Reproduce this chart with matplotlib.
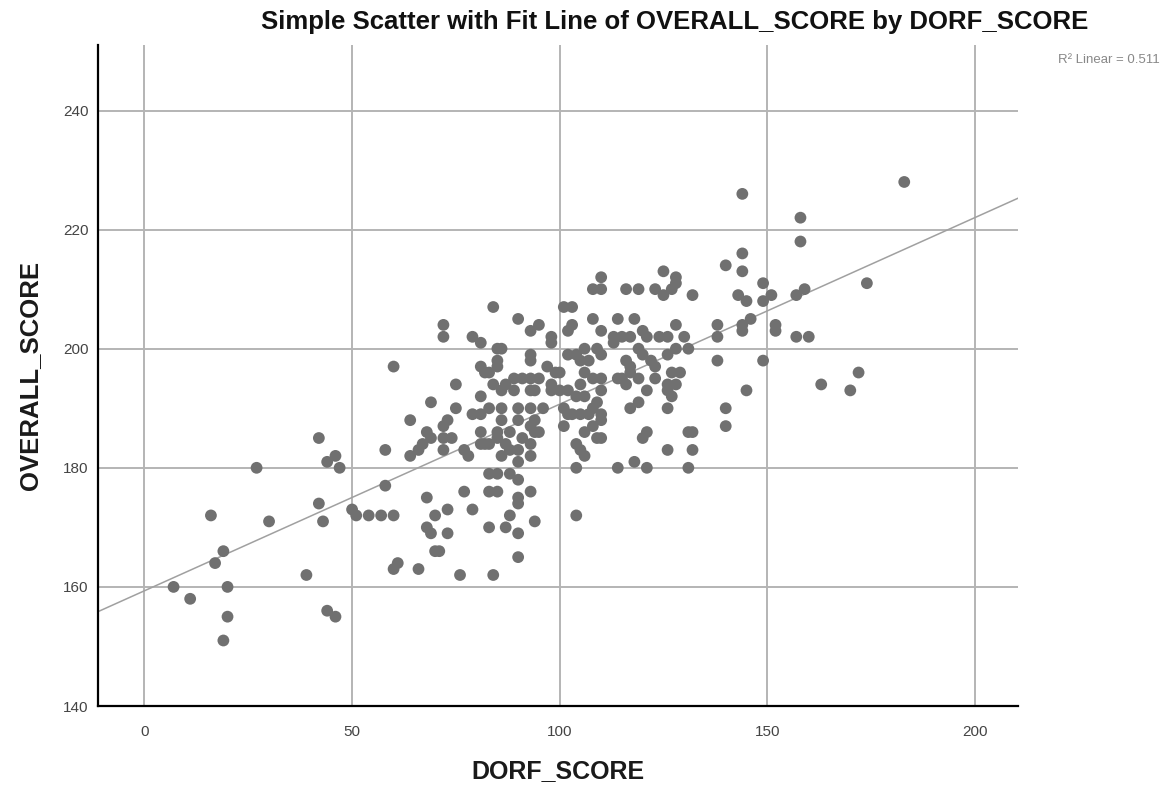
import matplotlib
matplotlib.use("Agg")
import matplotlib.pyplot as plt
import numpy as np

# ---- data ----
dorf_low = [7, 11, 16, 17, 19, 19, 20, 20, 27, 30, 39, 42, 42, 43, 44, 46, 47, 44, 46, 50,
            51, 54, 57, 60, 58, 58, 60, 60, 61, 64, 68, 68, 70, 68, 69, 70, 66, 64, 69, 69, 67, 66]
overall_low = [160, 158, 172, 164, 166, 151, 160, 155, 180, 171, 162, 185, 174, 171, 181, 182, 180, 156, 155, 173,
               172, 172, 172, 172, 183, 177, 197, 163, 164, 182, 186, 175, 172, 170, 169, 166, 163, 188, 191, 185, 184, 183]

dorf_mid = [72, 72, 79, 81, 84, 90, 85, 86, 93, 95, 85, 85, 81, 82, 83, 75, 84, 75, 81, 79,
            81, 83, 73, 72, 74, 72, 72, 77, 78, 81, 81, 83, 85, 87, 86, 88, 90, 93, 93, 94,
            94, 93, 93, 89, 91, 93, 95, 87, 86, 89, 93, 94, 86, 90, 93, 96, 86, 90, 93, 85,
            88, 91, 95, 82, 90, 83, 85, 88, 90, 83, 85, 77, 79, 73, 90, 90, 93, 88, 94, 83,
            87, 90, 73, 71, 90, 76, 84]
overall_mid = [204, 202, 202, 201, 207, 205, 200, 200, 203, 204, 198, 197, 197, 196, 196, 194, 194, 190, 192, 189,
               189, 190, 188, 187, 185, 185, 183, 183, 182, 186, 184, 184, 185, 184, 182, 183, 181, 184, 182, 188,
               186, 199, 198, 195, 195, 195, 195, 194, 193, 193, 193, 193, 190, 190, 190, 190, 188, 188, 187, 186,
               186, 185, 186, 184, 183, 179, 179, 179, 178, 176, 176, 176, 173, 173, 175, 174, 176, 172, 171, 170,
               170, 169, 169, 166, 165, 162, 162]

dorf_hi = [98, 98, 97, 99, 98, 98, 100, 101, 103, 103, 102, 108, 110, 106, 109, 102, 104, 105, 107, 106,
           108, 100, 102, 101, 102, 101, 105, 106, 104, 109, 105, 108, 106, 109, 104, 105, 106, 104, 104, 110,
           110, 107, 103, 108, 110, 110, 108, 110, 110, 110, 110]
overall_hi = [202, 201, 197, 196, 193, 194, 193, 207, 207, 204, 203, 205, 203, 200, 200, 199, 199, 198, 198, 196,
              195, 196, 193, 190, 189, 187, 194, 192, 192, 191, 189, 190, 186, 185, 184, 183, 182, 180, 172, 195,
              193, 189, 189, 187, 212, 210, 210, 189, 188, 199, 185]

dorf_up = [113, 115, 117, 116, 119, 114, 118, 120, 121, 113, 119, 120, 116, 117, 117, 119, 122, 123, 123, 127,
           129, 126, 128, 126, 127, 121, 115, 116, 114, 119, 117, 126, 121, 120, 131, 132, 126, 132, 114, 118,
           121, 131, 125, 128, 128, 125, 127, 123, 132, 124, 126, 128, 130, 126, 128, 131]
overall_up = [202, 202, 202, 210, 210, 205, 205, 203, 202, 201, 200, 199, 198, 197, 196, 195, 198, 197, 195, 196,
              196, 194, 194, 193, 192, 193, 195, 194, 195, 191, 190, 190, 186, 185, 186, 186, 183, 183, 180, 181,
              180, 180, 213, 212, 211, 209, 210, 210, 209, 202, 202, 204, 202, 199, 200, 200]

dorf_top = [138, 138, 138, 140, 144, 144, 143, 145, 144, 146, 144, 144, 145, 140, 140, 149, 151, 149, 149, 152,
            152, 157, 159, 157, 160, 158, 158, 163, 170, 172, 174, 183]
overall_top = [204, 202, 198, 214, 216, 213, 209, 208, 226, 205, 204, 203, 193, 190, 187, 211, 209, 208, 198, 204,
               203, 209, 210, 202, 202, 222, 218, 194, 193, 196, 211, 228]

r2_text = "R\u00b2 Linear = 0.511"
x_ticks = [0, 50, 100, 150, 200]
y_ticks = [140, 160, 180, 200, 220, 240]

dorf = np.array(dorf_low + dorf_mid + dorf_hi + dorf_up + dorf_top, dtype=float)
overall = np.array(overall_low + overall_mid + overall_hi + overall_up + overall_top, dtype=float)

# ---- figure ----
fig = plt.figure(figsize=(11.7, 7.91), dpi=100)
ax = fig.add_axes([98 / 1170, 1 - 706 / 791, (1018 - 98) / 1170, (706 - 45) / 791])
xmin, xmax = -11.2, 210.4
ax.set_xlim(xmin, xmax)
ax.set_ylim(140, 251)

for xt in x_ticks:
    ax.axvline(xt, color="#b4b4b4", lw=1.4, zorder=1)
for yt in y_ticks[1:]:
    ax.axhline(yt, color="#b4b4b4", lw=1.4, zorder=1)

ax.scatter(dorf, overall, s=72, color="#707070", edgecolors="none", zorder=3)

slope, intercept = np.polyfit(dorf, overall, 1)
xx = np.array([xmin, xmax])
ax.plot(xx, intercept + slope * xx, color="#a0a0a0", lw=1.1, zorder=2)

for s in ["top", "right"]:
    ax.spines[s].set_visible(False)
for s in ["left", "bottom"]:
    ax.spines[s].set_color("black")
    ax.spines[s].set_linewidth(1.6)

ax.set_xticks(x_ticks)
ax.set_yticks(y_ticks)
ax.tick_params(axis="both", length=0, labelsize=11, labelcolor="#444444",
               labelfontfamily="Liberation Sans")
ax.tick_params(axis="y", pad=7)
ax.tick_params(axis="x", pad=14)

ax.set_xlabel("DORF_SCORE", fontsize=18, fontweight="bold", family="Liberation Sans",
              color="#1a1a1a", labelpad=14)
ax.set_ylabel("OVERALL_SCORE", fontsize=18.5, fontweight="bold", family="Liberation Sans",
              color="#1a1a1a", labelpad=15)

fig.text(675 / 1170, 1 - 22 / 791, "Simple Scatter with Fit Line of OVERALL_SCORE by DORF_SCORE",
         ha="center", va="center", fontsize=18.5, fontweight="bold",
         family="Liberation Sans", color="#111111")
fig.text(1160 / 1170, 1 - 60 / 791, r2_text, ha="right", va="center", fontsize=9.5,
         family="Liberation Sans", color="#888888")

fig.savefig("out.png", dpi=100)
